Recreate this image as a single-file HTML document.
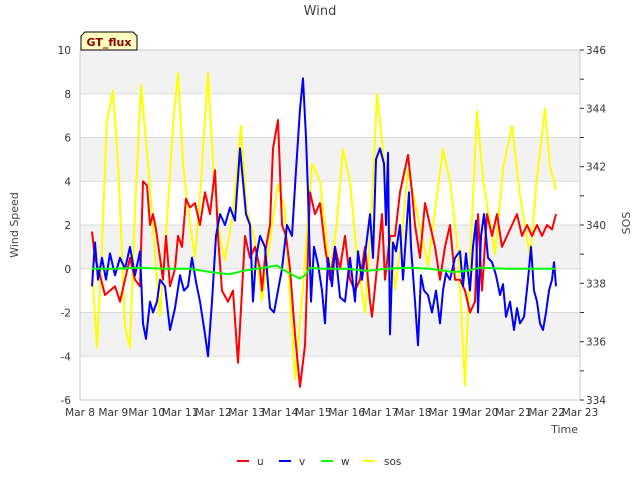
<!DOCTYPE html>
<html><head><meta charset="utf-8"><style>
body{margin:0;background:#fff;font-family:"Liberation Sans","DejaVu Sans",sans-serif;}
svg text{font-family:"DejaVu Sans","Liberation Sans",sans-serif;}
</style></head><body>
<svg id="c" width="640" height="480" xmlns="http://www.w3.org/2000/svg">
<rect width="640" height="480" fill="#fff"/>
<g id="bands"></g>
<g id="grid"></g>
<rect x="80" y="50" width="500" height="350" fill="none" stroke="#ccc"/>
<g id="axes"></g>
<g id="series"></g>
<text x="320" y="15" text-anchor="middle" font-size="13" fill="#444">Wind</text>
<text transform="translate(18,225) rotate(-90)" text-anchor="middle" font-size="11" fill="#444">Wind Speed</text>
<text transform="translate(630,223) rotate(-90)" text-anchor="middle" font-size="11" fill="#444">SOS</text>
<text x="578" y="433" text-anchor="end" font-size="11" fill="#444">Time</text>
<g>
<path d="M81,50 L81,36 L85,32 L133,32 L137,36 L137,50 Z" fill="#ffffc0" stroke="#000" stroke-width="1"/>
<text x="109" y="46" text-anchor="middle" font-size="11" font-weight="bold" fill="#8b0000">GT_flux</text>
</g>
<g id="legend"></g>
</svg>
<script>
const xTicks=["Mar 8","Mar 9","Mar 10","Mar 11","Mar 12","Mar 13","Mar 14","Mar 15","Mar 16","Mar 17","Mar 18","Mar 19","Mar 20","Mar 21","Mar 22","Mar 23"];
const yTicks=[-6,-4,-2,0,2,4,6,8,10];
const y2Ticks=[334,336,338,340,342,344,346];
const uT=[.36,.45,.6,.75,.9,1.05,1.2,1.35,1.5,1.65,1.8,1.89,2.01,2.1,2.19,2.28,2.4,2.49,2.58,2.7,2.85,2.94,3.06,3.18,3.3,3.45,3.6,3.75,3.9,4.05,4.14,4.26,4.44,4.59,4.74,4.95,5.1,5.25,5.4,5.46,5.58,5.7,5.79,5.94,6.06,6.18,6.3,6.45,6.6,6.75,6.9,7.05,7.2,7.35,7.5,7.65,7.8,7.95,8.1,8.25,8.4,8.55,8.7,8.76,8.94,9.06,9.15,9.3,9.45,9.6,9.84,9.96,10.05,10.2,10.35,10.5,10.65,10.8,10.95,11.1,11.25,11.4,11.55,11.7,11.85,11.94,12.06,12.21,12.36,12.51,12.66,12.81,12.96,13.11,13.26,13.41,13.56,13.71,13.86,14.01,14.16,14.28];
const uV=[1.7,.5,-.3,-1.2,-1,-.8,-1.5,-.5,.5,-.5,-.8,4,3.8,2,2.5,1.8,.5,-.5,1.5,-.8,0,1.5,1,3.2,2.8,3,2,3.5,2.5,4.5,1.5,-1,-1.5,-1,-4.3,1.5,.5,1,0,-1,1,2,5.5,6.8,2,1.5,0,-3,-5.4,-3.5,3.5,2.5,3,1,-.5,1,0,1.5,-.5,-1,-.5,1,-1.5,-2.2,.5,2.5,-.5,1.5,1.5,3.5,5.2,3.5,2,.5,3,2,1,-.5,1,2,-.5,-.5,-1,-2,-1.5,2.5,-1,2.5,1.5,2.5,1,1.5,2,2.5,1.5,2,1.5,2,1.5,2,1.8,2.5];
const vT=[.36,.45,.54,.66,.78,.9,1.05,1.2,1.35,1.5,1.65,1.8,1.89,1.98,2.1,2.19,2.31,2.4,2.55,2.7,2.85,3,3.12,3.24,3.36,3.48,3.6,3.75,3.84,3.96,4.08,4.2,4.35,4.5,4.65,4.8,4.89,4.98,5.1,5.19,5.28,5.4,5.55,5.7,5.82,5.94,6.06,6.21,6.36,6.48,6.6,6.69,6.78,6.84,6.93,7.02,7.14,7.26,7.35,7.44,7.56,7.65,7.8,7.95,8.1,8.25,8.34,8.46,8.58,8.7,8.79,8.88,9,9.12,9.18,9.24,9.3,9.39,9.48,9.6,9.69,9.78,9.87,9.93,10.05,10.14,10.23,10.32,10.44,10.56,10.68,10.8,10.89,10.98,11.1,11.25,11.4,11.49,11.58,11.7,11.79,11.88,11.94,12.03,12.12,12.24,12.36,12.48,12.6,12.69,12.78,12.9,13.02,13.11,13.2,13.32,13.44,13.53,13.62,13.71,13.8,13.89,13.98,14.07,14.16,14.22,14.28];
const vV=[-.8,1.2,-.5,.5,-.5,.7,-.3,.5,0,1,-.3,.8,-2.5,-3.2,-1.5,-2,-1.5,-.5,-.8,-2.8,-1.8,-.3,-1,-.8,.5,-.6,-1.5,-3,-4,-1.5,1.5,2.5,2,2.8,2.2,5.5,4,2.5,2,-1.5,.5,1.5,1,-1.8,-2,-1,0,2,1.5,4.5,7.3,8.7,6,3.5,-1.5,1,.2,-1,-2.5,.5,-.8,1,-1.3,-1.5,.5,-1.5,.8,-.5,1,2.5,.5,5,5.5,4.8,2,5.3,-3,1.2,.8,2,-.5,1.5,3.5,1,-1.5,-3.5,-.3,-1,-1.2,-2,-1,-2.5,-1,-.2,-.5,.5,.8,-.8,.7,-1,1,2.2,-2,1.5,2.5,.5,.3,-.3,-1.2,-.7,-2.2,-1.5,-2.8,-1.8,-2.5,-2.2,-.5,1,-1,-1.5,-2.5,-2.8,-2,-1,-.5,.3,-.8];
const wT=[.36,1,1.8,2.5,3.3,3.9,4.5,4.9,5.5,5.9,6.1,6.4,6.6,6.75,6.9,7.2,8,8.6,9.2,9.9,10.5,11.2,11.6,12,12.8,13.5,14.28];
const wV=[0,0,.05,0,0,-.15,-.25,-.1,.05,.15,-.05,-.3,-.45,-.3,.05,0,0,-.1,0,.05,0,-.15,-.1,.05,0,0,0];
const sT=[.36,.51,.65,.8,.99,1.15,1.35,1.5,1.65,1.83,2.05,2.25,2.4,2.6,2.8,2.94,3.1,3.3,3.45,3.6,3.84,4.0,4.2,4.35,4.6,4.83,5.0,5.25,5.46,5.7,5.94,6.15,6.45,6.7,6.96,7.2,7.5,7.7,7.89,8.1,8.3,8.55,8.75,8.91,9.1,9.45,9.65,9.84,10.1,10.44,10.65,10.89,11.1,11.35,11.55,11.75,11.91,12.1,12.45,12.7,12.96,13.2,13.5,13.7,13.95,14.1,14.28];
const sV=[338.5,335.8,339,343.5,344.6,342,336.5,335.8,340.5,344.8,342,339,336.9,340,343.5,345.2,342,340,338.9,341,345.2,342,339.5,338.8,340.5,343.4,340.5,339.5,337.4,339.5,341.4,340.5,334.7,338,342.1,341.5,338.3,340,342.6,341.5,339,337,340.5,344.5,342.5,337.8,339.5,341.9,340.5,338.6,340.5,342.6,341.5,339,334.5,340,343.9,341.5,339,342,343.4,341,338.9,341.5,344,342,341.2];
const NS="http://www.w3.org/2000/svg";
const X0=80,X1=580,Y0=400,Y1=50;
function xs(d){return X0+(X1-X0)*d/15;}
function ys(v){return Y0-(v+6)/16*(Y0-Y1);}
function ys2(v){return Y0-(v-334)/12*(Y0-Y1);}
function mk(tag,attrs,parent){const e=document.createElementNS(NS,tag);for(const k in attrs)e.setAttribute(k,attrs[k]);parent.appendChild(e);return e;}
const bands=document.getElementById('bands'),grid=document.getElementById('grid'),axes=document.getElementById('axes'),series=document.getElementById('series'),legend=document.getElementById('legend');
for(let i=0;i<yTicks.length-1;i++){
  if(i%2===1){const r=mk('rect',{x:X0,y:ys(yTicks[i+1]),width:X1-X0,height:ys(yTicks[i])-ys(yTicks[i+1]),fill:'#f2f2f2'},bands);
  
  }
}
yTicks.forEach(v=>{
  const l=mk('line',{x1:X0,x2:X1,y1:ys(v),y2:ys(v),stroke:'#dcdcdc'},grid);
  
  
  const t=mk('text',{x:71,y:ys(v)+4,'text-anchor':'end','font-size':'10.5',fill:'#333'},axes);t.textContent=v;
  
  
});
y2Ticks.forEach((v,i)=>{
  const t=mk('text',{x:586,y:ys2(v)+4,'font-size':'10.5',fill:'#333'},axes);t.textContent=v;
  
  
  mk('line',{x1:X1,x2:X1+4,y1:ys2(v),y2:ys2(v),stroke:'#333'},axes);
  if(i<y2Ticks.length-1){const m=mk('line',{x1:X1,x2:X1+4,y1:ys2(v+1),y2:ys2(v+1),stroke:'#333'},axes);
  
  }
});
xTicks.forEach((s,i)=>{
  const t=mk('text',{x:xs(i),y:416,'text-anchor':'middle','font-size':'10.5',fill:'#333'},axes);t.textContent=s;
  
  
});
function line(T,V,sc,col,name){
  const p=mk('polyline',{points:T.map((t,i)=>xs(t).toFixed(1)+','+sc(V[i]).toFixed(1)).join(' '),fill:'none',stroke:col,'stroke-width':2,'stroke-linejoin':'round'},series);
  
  
}
line(sT,sV,ys2,'#ffff00','sos-line');
line(uT,uV,ys,'#ff0000','u-line');
line(vT,vV,ys,'#0000ff','v-line');
line(wT,wV,ys,'#00ff00','w-line');
const leg=[['u','#ff0000',237,257],['v','#0000ff',279,299],['w','#00ff00',321,341],['sos','#ffff00',363,384]];
leg.forEach(e=>{
  const g=mk('g',{},legend);
  
  
  mk('line',{x1:e[2],x2:e[2]+12,y1:461,y2:461,stroke:e[1],'stroke-width':2},g);
  const t=mk('text',{x:e[3],y:465,'font-size':'10.5',fill:'#333'},g);t.textContent=e[0];
});
</script>
</body></html>
